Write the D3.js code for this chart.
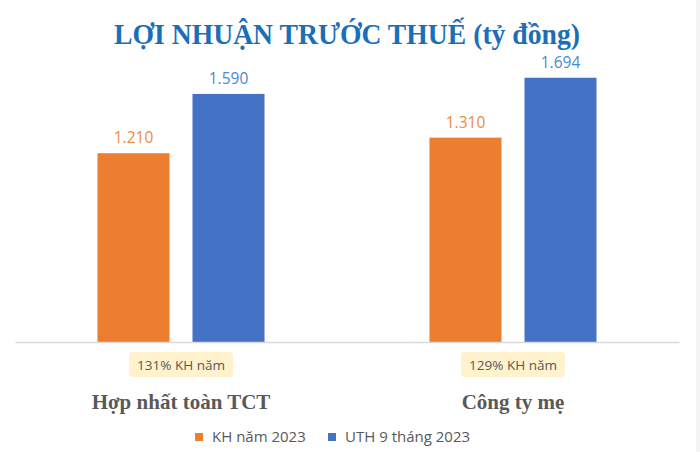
<!DOCTYPE html>
<html>
<head>
<meta charset="utf-8">
<script src="https://cdn.jsdelivr.net/npm/d3@7"></script>
<style>
  html, body { margin: 0; padding: 0; background: #ffffff; }
  svg { display: block; }
</style>
</head>
<body>
<svg id="chart" width="700" height="452"></svg>
<script>
const title = "LỢI NHUẬN TRƯỚC THUẾ (tỷ đồng)";
const categories = ["Hợp nhất toàn TCT", "Công ty mẹ"];
const seriesNames = ["KH năm 2023", "UTH 9 tháng 2023"];
const planValues = [1210, 1310];
const actualValues = [1590, 1694];
const valueLabels = [["1.210", "1.590"], ["1.310", "1.694"]];
const noteLabels = ["131% KH năm", "129% KH năm"];
const barColors = ["#ED7D31", "#4472C4"];
const labelColors = ["#EE8A45", "#4A8AD0"];

const svg = d3.select("#chart");
const W = 700, H = 452;

// right edge strip
svg.append("rect").attr("x", 696).attr("y", 0).attr("width", 4).attr("height", H).attr("fill", "#f3f3f3");

const baseY = 342;
const x0 = d3.scaleBand().domain(categories).range([15, 679]).padding(0);
const x1 = d3.scaleBand().domain(seriesNames).range([0, x0.bandwidth()])
  .paddingInner(0.242).paddingOuter(0.868);
const y = d3.scaleLinear().domain([0, 1800]).range([baseY, 61.2]);

const data = categories.map((c, i) => ({
  cat: c,
  vals: [planValues[i], actualValues[i]],
  labels: valueLabels[i],
  note: noteLabels[i]
}));

// Title
svg.append("text")
  .attr("x", 347).attr("y", 44)
  .attr("text-anchor", "middle")
  .attr("font-family", "'Liberation Serif', 'Times New Roman', serif")
  .attr("font-weight", "bold")
  .attr("font-size", 29.5)
  .attr("textLength", 466)
  .attr("lengthAdjust", "spacingAndGlyphs")
  .attr("fill", "#1B6FB9")
  .text(title);

const g = svg.selectAll("g.cat").data(data).enter().append("g")
  .attr("class", "cat")
  .attr("transform", d => `translate(${x0(d.cat)},0)`);

g.selectAll("rect.bar").data(d => d.vals.map((v, k) => ({ v, k, label: d.labels[k] })))
  .enter().append("rect")
  .attr("class", "bar")
  .attr("x", d => x1(seriesNames[d.k]))
  .attr("width", x1.bandwidth())
  .attr("y", d => y(d.v))
  .attr("height", d => baseY - y(d.v))
  .attr("fill", d => barColors[d.k]);

g.selectAll("text.val").data(d => d.vals.map((v, k) => ({ v, k, label: d.labels[k] })))
  .enter().append("text")
  .attr("class", "val")
  .attr("x", d => x1(seriesNames[d.k]) + x1.bandwidth() / 2)
  .attr("y", d => y(d.v) - 10)
  .attr("text-anchor", "middle")
  .attr("font-family", "'Open Sans', sans-serif")
  .attr("font-size", 15.5)
  .attr("fill", d => labelColors[d.k])
  .text(d => d.label);

// axis baseline
const axis = d3.axisBottom(x0).tickSize(0).tickFormat("");
const ax = svg.append("g").attr("transform", `translate(0,${baseY})`).call(axis);
ax.select(".domain").attr("stroke", "#d9d9d9").attr("stroke-width", 1.5);

// note boxes
const notes = g.append("g").attr("transform", d => `translate(${x0.bandwidth() / 2},0)`);
notes.append("rect")
  .attr("x", -52).attr("y", 352).attr("width", 104).attr("height", 25)
  .attr("rx", 4).attr("ry", 4)
  .attr("fill", "#FFF2CC");
notes.append("text")
  .attr("x", 0).attr("y", 369.5)
  .attr("text-anchor", "middle")
  .attr("font-family", "'Open Sans', sans-serif")
  .attr("font-size", 13.5)
  .attr("fill", "#595959")
  .text(d => d.note);

// category labels
g.append("text")
  .attr("x", x0.bandwidth() / 2).attr("y", 409)
  .attr("text-anchor", "middle")
  .attr("font-family", "'Liberation Serif', 'Times New Roman', serif")
  .attr("font-weight", "bold")
  .attr("font-size", 21)
  .attr("fill", "#595959")
  .text(d => d.cat);

// legend
const legendX = [195, 328];
const lg = svg.selectAll("g.leg").data(seriesNames).enter().append("g")
  .attr("transform", (d, i) => `translate(${legendX[i]},433)`);
lg.append("rect").attr("width", 8).attr("height", 8).attr("fill", (d, i) => barColors[i]);
lg.append("text")
  .attr("x", 17).attr("y", 8.5)
  .attr("font-family", "'Open Sans', sans-serif")
  .attr("font-size", 15)
  .attr("fill", "#595959")
  .text(d => d);
</script>
</body>
</html>
